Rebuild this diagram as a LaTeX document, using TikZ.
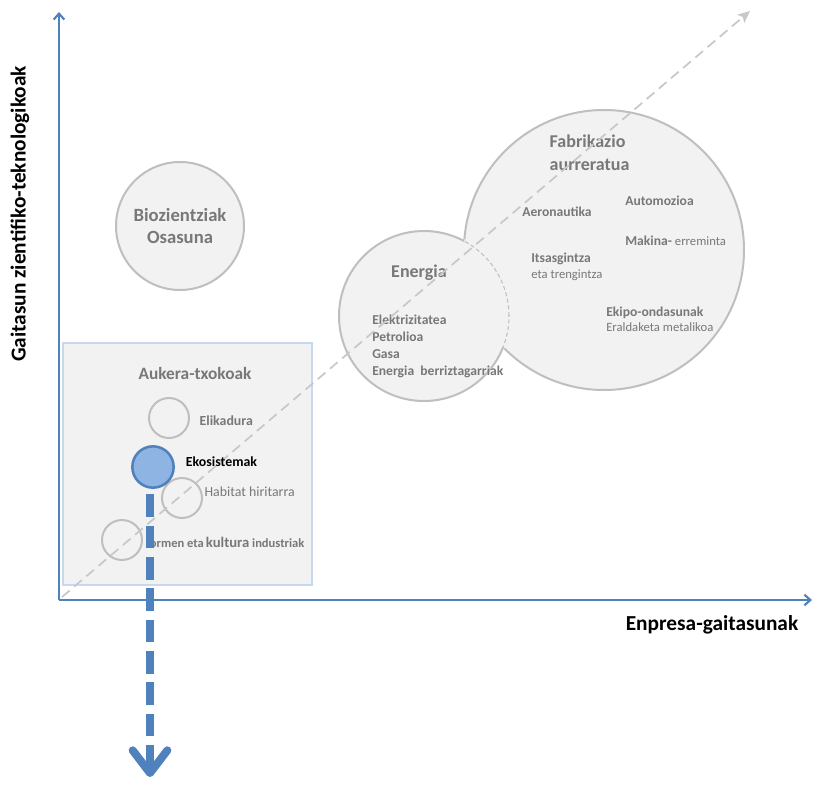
\documentclass[tikz,border=0pt]{standalone}
\usepackage{fontspec}
\setmainfont{Carlito}
\usetikzlibrary{positioning,arrows.meta}

\definecolor{axisblue}{RGB}{79,129,189}
\definecolor{dotblue}{RGB}{141,180,226}
\definecolor{bubblefill}{RGB}{242,242,242}
\definecolor{bubbleline}{RGB}{191,191,191}
\definecolor{labelgray}{RGB}{120,120,120}
\definecolor{boxline}{RGB}{198,217,241}
\definecolor{diaggray}{RGB}{200,200,200}

\begin{document}
\begin{tikzpicture}[x=0.75pt,y=-0.75pt,
  axis/.style={draw=axisblue,line width=1.6pt,-{Straight Barb[length=4.5pt,width=8pt]}},
  axislabel/.style={font=\bfseries\fontsize{16}{19}\selectfont,text=black},
  bubble/.style={circle,fill=bubblefill,draw=bubbleline,line width=1.5pt,inner sep=0pt},
  spot/.style={circle,draw=bubbleline,line width=1.5pt,minimum size=30pt,inner sep=0pt},
  title/.style={font=\bfseries\fontsize{13.5}{16}\selectfont,text=labelgray,align=center},
  item/.style={anchor=west,inner sep=0pt,font=\bfseries\fontsize{10.2}{12.75}\selectfont,text=labelgray},
  small/.style={anchor=west,inner sep=0pt,font=\fontsize{9.5}{11}\selectfont,text=labelgray},
  diag/.style={draw=diaggray,line width=1.3pt,dash pattern=on 7.5pt off 4.5pt,-{Stealth[length=9pt,width=8pt,inset=2pt]}},
  drop/.style={draw=axisblue,line width=6pt,dash pattern=on 17pt off 6.5pt,-{Straight Barb[length=17pt,width=26pt,round]}}
  ]
  \fill[white] (0,0) rectangle (814,788);
  \useasboundingbox (0,0) rectangle (814,788);

  % axes
  \coordinate (origin) at (59,600);
  \coordinate (ytop) at (59,12);
  \coordinate (xend) at (812,600);
  \draw[axis] (origin) -- (ytop);
  \draw[axis] (origin) -- (xend);
  \node[axislabel,rotate=90] (ylab) at (20,214) {Gaitasun zientifiko-teknologikoak};
  \node[axislabel] (xlab) at (712,625) {Enpresa-gaitasunak};

  % opportunity niches
  \draw[fill=bubblefill,draw=boxline,line width=1.8pt] (63,343) rectangle (312,585);
  \node[title,font=\bfseries\fontsize{13}{16}\selectfont] (aukt) at (195,373) {Aukera-txokoak};
  \node[spot] (elik) at (169,418) {};
  \node[spot] (habi) at (182,498) {};
  \node[spot] (ormn) at (122,540) {};
  \node[item,font=\bfseries\fontsize{10.4}{12}\selectfont,right=7pt of elik,yshift=-2pt] (elikt) {Elikadura};
  \node[small,font=\fontsize{10.4}{12}\selectfont,right=1pt of habi,yshift=5pt] (habit) {Habitat\ hiritarra};
  \node[small,font=\bfseries\fontsize{9.4}{11}\selectfont,right=5pt of ormn,yshift=-2pt] (ormnt)
    {ormen eta\,{\fontsize{11}{12}\selectfont kultura}\ industriak};

  % big sectors
  \node[bubble,minimum size=96pt,title,font=\bfseries\fontsize{14}{16}\selectfont] (bio) at (180,226) {Biozientziak\\Osasuna};
  \node[bubble,minimum size=210pt] (fabr) at (604,250) {};
  \node[bubble,minimum size=127.5pt] (ener) at (424,316) {};
  \begin{scope}
    \clip (604,250) circle (105pt);
    \draw[bubblefill,line width=2.6pt] (424,316) circle (63.75pt);
    \draw[bubbleline,line width=0.8pt,dash pattern=on 3pt off 2pt] (424,316) circle (63.75pt);
  \end{scope}

  \node[title] (enert) at (419,273) {Energia};
  \node[item,align=left] (enerl) at (372,346)
    {Elektrizitatea\\Petrolioa\\Gasa\\Energia\ \ berriztagarriak};

  \node[title,anchor=west,align=left,font=\bfseries\fontsize{13.5}{17}\selectfont] (fabrt) at (545,153)
    {Fabrikazio\\aurreratua};
  \node[item] (aero) at (522,212) {Aeronautika};
  \node[item] (auto) at (625,201) {Automozioa};
  \node[item] (maki) at (625,241) {Makina- {\mdseries\fontsize{9.5}{11}\selectfont erreminta}};
  \node[item] (itsa) at (531,259) {Itsasgintza};
  \node[small] (tren) at (531,275) {eta trengintza};
  \node[item] (ekip) at (606,313) {Ekipo-ondasunak};
  \node[small] (eral) at (606,327) {Eraldaketa\ metalikoa};

  % diagonal
  \coordinate (dstart) at (62,597);
  \coordinate (dend) at (750,11);
  \draw[diag] (dstart) -- (dend);

  % selected niche
  \node[spot,fill=dotblue,draw=axisblue,line width=1.9pt,minimum size=31pt] (ekos) at (153,467) {};
  \node[item,text=black,font=\bfseries\fontsize{10.4}{12}\selectfont,right=8pt of ekos,yshift=4pt] (ekost) {Ekosistemak};
  \coordinate (dropend) at (150,777);
  \draw[drop,shorten <=4pt] (ekos.south -| dropend) -- (dropend);
\end{tikzpicture}
\end{document}
